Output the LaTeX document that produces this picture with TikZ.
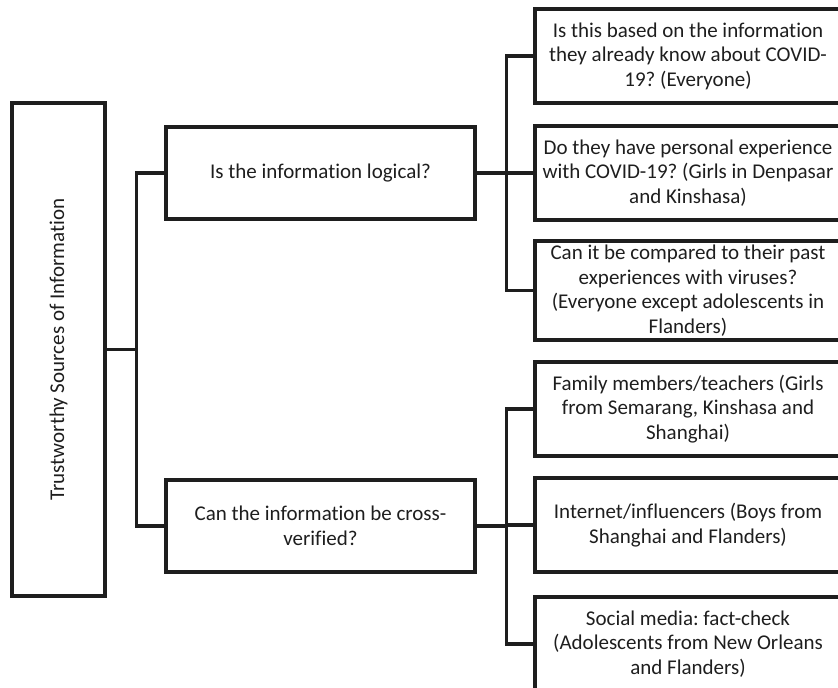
\documentclass[tikz,border=0pt]{standalone}
\usepackage{fontspec}
\setmainfont{Carlito}[Ligatures={NoCommon,TeX}]
\usetikzlibrary{positioning,calc}
\definecolor{inkgray}{HTML}{1E1E1E}
\frenchspacing

\tikzset{
  box/.style={draw=inkgray,line width=3.2pt,align=center,text=inkgray,inner sep=4pt,
    font=\fontsize{21}{24.5}\selectfont},
  midbox/.style={box,minimum width=309pt,minimum height=92pt},
  qbox/.style={box,minimum width=306pt,minimum height=94pt},
  link/.style={draw=inkgray,line width=3.2pt},
}

\begin{document}
\begin{tikzpicture}[x=1pt,y=-1pt]
  \useasboundingbox (0,0) rectangle (838,688);
  \clip (0,0) rectangle (838,688);
  % Root
  \node[box,minimum width=93pt,minimum height=493pt] (root) at (58.5,349.5)
    {\rotatebox{90}{Trustworthy Sources of Information}};
  % Criteria
  \node[midbox] (logic) at (320.5,173) {Is the information logical?};
  \node[midbox] (cross) at (320.5,526) {Can the information be cross-\\verified?};
  % Questions (logical)
  \node[qbox] (based) at (688,56) {Is this based on the information\\they already know about COVID-\\19? (Everyone)};
  \node[qbox] (personal) at (688,173) {Do they have personal experience\\with COVID-19? (Girls in Denpasar\\and Kinshasa)};
  \node[qbox] (past) at (688,290.5) {Can it be compared to their past\\experiences with viruses?\\(Everyone except adolescents in\\Flanders)};
  % Sources (cross-verified)
  \node[qbox] (family) at (688,409) {Family members/teachers (Girls\\from Semarang, Kinshasa and\\Shanghai)};
  \node[qbox] (internet) at (688,525) {Internet/influencers (Boys from\\Shanghai and Flanders)};
  \node[qbox] (social) at (688,644) {Social media: fact-check\\(Adolescents from New Orleans\\and Flanders)};
  % Links
  \draw[link] (root.east) -- ++(30,0) coordinate (rootj);
  \draw[link] (rootj) |- (logic.west);
  \draw[link] (rootj) |- (cross.west);
  \draw[link] (logic.east) -- ++(30,0) coordinate (logicj);
  \foreach \n in {based,personal,past}
    \draw[link] (logicj) |- (\n.west);
  \draw[link] (cross.east) -- ++(30,0) coordinate (crossj);
  \foreach \n in {family,internet,social}
    \draw[link] (crossj) |- (\n.west);
\end{tikzpicture}
\end{document}
